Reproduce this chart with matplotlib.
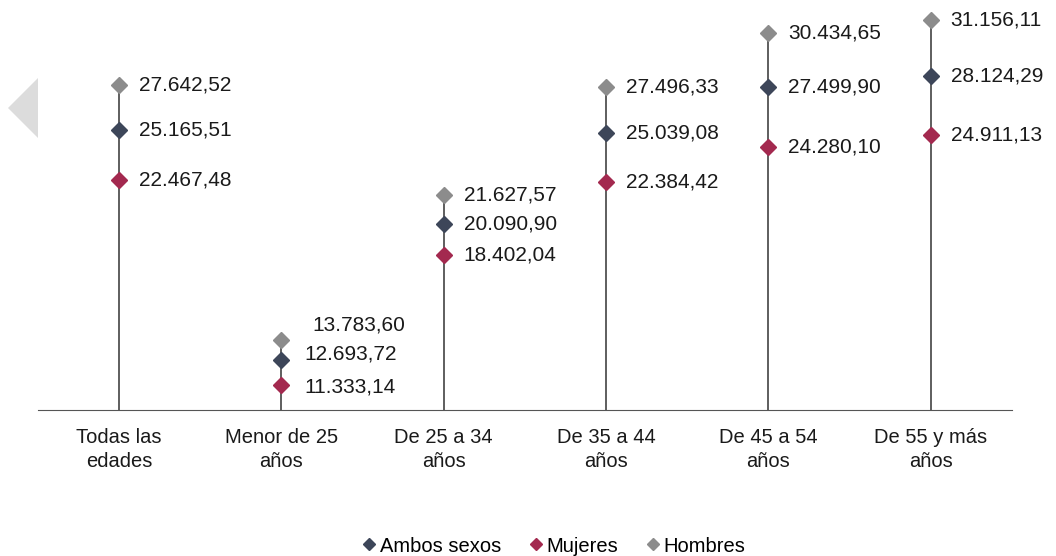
import matplotlib.pyplot as plt
from matplotlib.patches import Polygon
from matplotlib.lines import Line2D

# Data
categories = ['Todas las\nedades', 'Menor de 25\naños', 'De 25 a 34\naños',
              'De 35 a 44\naños', 'De 45 a 54\naños', 'De 55 y más\naños']
ambos = [25165.51, 12693.72, 20090.90, 25039.08, 27499.90, 28124.29]
mujeres = [22467.48, 11333.14, 18402.04, 22384.42, 24280.10, 24911.13]
hombres = [27642.52, 13783.60, 21627.57, 27496.33, 30434.65, 31156.11]

c_ambos = '#3D4659'
c_muj = '#A3294F'
c_hom = '#8C8C8C'

plt.rcParams['font.family'] = ['Liberation Sans', 'DejaVu Sans']


def fmt(v):
    s = f'{v:,.2f}'
    return s.replace(',', 'X').replace('.', ',').replace('X', '.')


fig = plt.figure(figsize=(10.56, 5.56), dpi=100)
ax = fig.add_axes([0.036, 0.2626, 0.922, 0.730])

x = list(range(len(categories)))
ax.vlines(x, 10000, hombres, color='#333333', lw=1.1, zorder=1)
ax.plot(x, hombres, 'D', color=c_hom, ms=8, zorder=3)
ax.plot(x, ambos, 'D', color=c_ambos, ms=8, zorder=3)
ax.plot(x, mujeres, 'D', color=c_muj, ms=8, zorder=3)

# label nudges (pixels) where labels are crowded
nudge = {(1, 'h'): (31, 15), (1, 'a'): (23, 6), (1, 'm'): (23, -2)}
for i in x:
    for key, vals in (('h', hombres), ('a', ambos), ('m', mujeres)):
        dx, dy = nudge.get((i, key), (20, 0))
        ax.annotate(fmt(vals[i]), (i, vals[i]), xytext=(dx * 0.72, dy * 0.72),
                    textcoords='offset points', va='center', ha='left',
                    fontsize=15, color='#1a1a1a')

ax.set_xlim(-0.5, 5.5)
ax.set_ylim(10000, 32000)
ax.set_yticks([])
ax.set_xticks(x)
ax.set_xticklabels(categories, fontsize=14.5, linespacing=1.3, color='#1a1a1a')
ax.tick_params(axis='x', length=0, pad=13)
for s in ['top', 'right', 'left']:
    ax.spines[s].set_visible(False)
ax.spines['bottom'].set_color('#555555')

# decorative left arrow
fig.patches.append(Polygon([[8 / 1056, 1 - 108 / 556], [38 / 1056, 1 - 78 / 556],
                            [38 / 1056, 1 - 138 / 556]], closed=True,
                           transform=fig.transFigure, facecolor='#DCDCDC',
                           edgecolor='none'))

handles = [Line2D([], [], marker='D', color=c, ls='none', ms=6) for c in (c_ambos, c_muj, c_hom)]
fig.legend(handles, ['Ambos sexos', 'Mujeres', 'Hombres'], loc='center',
           bbox_to_anchor=(0.523, 1 - 546 / 556), ncol=3, frameon=False,
           fontsize=14.5, handletextpad=0.05, columnspacing=1.2, handlelength=1.0)

fig.savefig('out.png', dpi=100)
